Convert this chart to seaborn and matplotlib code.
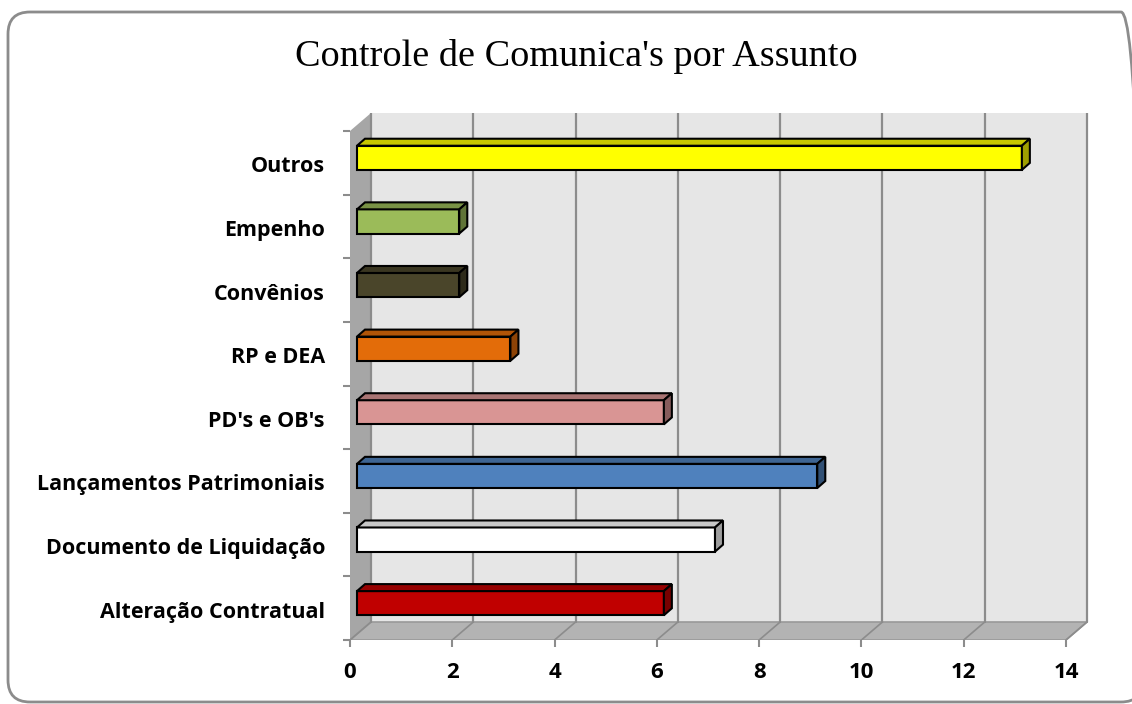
import matplotlib.pyplot as plt
import matplotlib.colors as mcolors
import matplotlib.transforms as mtransforms
from matplotlib.patches import Polygon, FancyBboxPatch
import seaborn as sns
import pandas as pd

categorias = ["Outros", "Empenho", "Convênios", "RP e DEA", "PD's e OB's",
              "Lançamentos Patrimoniais", "Documento de Liquidação", "Alteração Contratual"]
quantidades = [13, 2, 2, 3, 6, 9, 7, 6]
cores = ["#FFFF00", "#9BBB59", "#4A452A", "#E36C09", "#D99594", "#4F81BD", "#FFFFFF", "#C00000"]
ticks_x = [0, 2, 4, 6, 8, 10, 12, 14]
titulo = "Controle de Comunica's por Assunto"

sns.set_style("white")
plt.rcParams['font.family'] = ['Open Sans', 'DejaVu Sans']

df = pd.DataFrame({"assunto": categorias, "qtd": quantidades})

fig = plt.figure(figsize=(11.32, 7.04), dpi=100)
W, H = 1132, 704
# axes area in pixels (front plane x: 0 at 350px, 14 at 1066px)
ax_l, ax_r, ax_t, ax_b = 350, 1092, 113, 640
ax = fig.add_axes([ax_l / W, 1 - ax_b / H, (ax_r - ax_l) / W, (ax_b - ax_t) / H])

px_x = (1066 - 350) / 14.0
px_y = (640 - 131) / 8.0
DX = 21 / px_x          # wall depth
DY = -18 / px_y
n = len(categorias)
xmax = ticks_x[-1]
y0, y1 = -0.5, n - 0.5

sns.barplot(data=df, x="qtd", y="assunto", hue="assunto", palette=cores,
            legend=False, width=0.38, edgecolor="black", linewidth=1.5,
            saturation=1, orient="h", ax=ax, zorder=3)
barras = list(ax.patches)

ax.set_xlim(0, (ax_r - ax_l) / px_x)
ax.set_ylim(y1, y0 + DY)
for s in ax.spines.values():
    s.set_visible(False)

# back wall, side wall, floor
ax.add_patch(Polygon([(DX, y0 + DY), (xmax + DX, y0 + DY), (xmax + DX, y1 + DY), (DX, y1 + DY)],
                     closed=True, facecolor="#e6e6e6", edgecolor="none", zorder=0))
ax.add_patch(Polygon([(0, y0), (DX, y0 + DY), (DX, y1 + DY), (0, y1)],
                     closed=True, facecolor="#a6a6a6", edgecolor="none", zorder=0.5))
ax.add_patch(Polygon([(0, y1), (xmax, y1), (xmax + DX, y1 + DY), (DX, y1 + DY)],
                     closed=True, facecolor="#b3b3b3", edgecolor="#999999", lw=1.2, zorder=0.5))
for v in ticks_x:
    ax.plot([v + DX, v + DX], [y0 + DY, y1 + DY], color="#8c8c8c", lw=1.6, zorder=1)
    ax.plot([v, v + DX], [y1, y1 + DY], color="#8c8c8c", lw=1.2, zorder=1)

# 3D faces on the bars
ox, oy = 7 / px_x, -5 / px_y
bx, by = 8 / px_x, -7 / px_y
for p, c in zip(barras, cores):
    p.set_x(p.get_x() + ox)
    p.set_y(p.get_y() + oy)
    x, y, w, h = p.get_x(), p.get_y(), p.get_width(), p.get_height()
    rgb = mcolors.to_rgb(c)
    top = tuple(k * 0.78 for k in rgb)
    side = tuple(k * 0.62 for k in rgb)
    ax.add_patch(Polygon([(x, y), (x + w, y), (x + w + bx, y + by), (x + bx, y + by)],
                         closed=True, facecolor=top, edgecolor="black", lw=1.5, zorder=3))
    ax.add_patch(Polygon([(x + w, y), (x + w + bx, y + by), (x + w + bx, y + h + by), (x + w, y + h)],
                         closed=True, facecolor=side, edgecolor="black", lw=1.5, zorder=3))

# ticks
ax.set_xticks(ticks_x)
ax.set_xticklabels([str(v) for v in ticks_x], fontweight="bold", fontsize=16, color="black")
ax.set_yticks(range(n))
ax.set_yticklabels(categorias, fontweight="bold", fontsize=15.5, color="black",
                   va="center")
ax.set_yticks([i - 0.5 for i in range(n + 1)], minor=True)
ax.tick_params(axis="y", which="major", length=0, pad=18)
ax.tick_params(axis="y", which="minor", length=5, width=1.5, color="#8c8c8c", left=True)
ax.tick_params(axis="x", length=5, width=1.5, color="#8c8c8c", bottom=True, pad=11)
desce = mtransforms.ScaledTranslation(0, -4 / 100, fig.dpi_scale_trans)
for t in ax.get_yticklabels():
    t.set_transform(t.get_transform() + desce)
ax.set_xlabel("")
ax.set_ylabel("")
ax.grid(False)

fig.text(576 / W, 1 - 56 / H, titulo, ha="center", va="center",
         fontsize=27.5, family="Liberation Serif", color="black")

# rounded frame
frame = FancyBboxPatch((0.08, 0.02), 11.35, 6.90, boxstyle="round,pad=0,rounding_size=0.22",
                       transform=fig.dpi_scale_trans, facecolor="none",
                       edgecolor="#8c8c8c", lw=2)
fig.patches.append(frame)

fig.savefig("out.png", dpi=100)
